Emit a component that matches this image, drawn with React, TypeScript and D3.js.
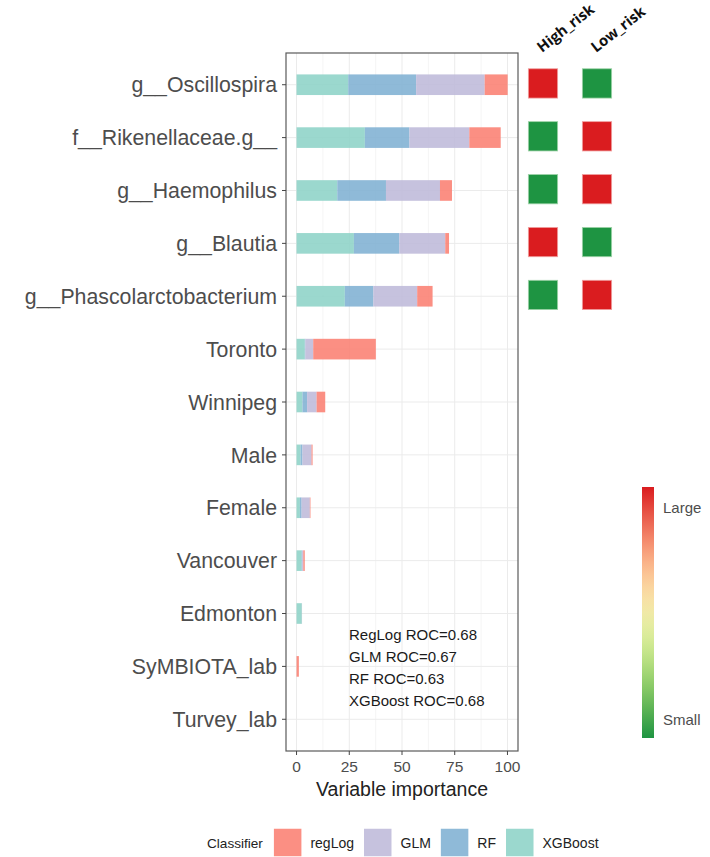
import React, { useEffect, useRef } from 'react'
import * as d3 from 'd3'

const features = [
  'g__Oscillospira',
  'f__Rikenellaceae.g__',
  'g__Haemophilus',
  'g__Blautia',
  'g__Phascolarctobacterium',
  'Toronto',
  'Winnipeg',
  'Male',
  'Female',
  'Vancouver',
  'Edmonton',
  'SyMBIOTA_lab',
  'Turvey_lab',
]

// importance per classifier (stacked left -> right: XGBoost, RF, GLM, regLog)
const xgboost = [24.5, 32.4, 19.3, 27.2, 22.9, 3.9, 2.8, 1.9, 1.6, 2.4, 2.5, 0, 0]
const rf = [32.2, 21.1, 23.1, 21.5, 13.5, 0.3, 2.2, 0.9, 0.8, 0.2, 0, 0, 0]
const glm = [32.5, 28.4, 25.6, 21.8, 20.8, 3.7, 4.5, 4.3, 3.9, 0.6, 0.1, 0, 0]
const reglog = [10.9, 14.9, 5.7, 1.8, 7.3, 29.7, 4.1, 0.5, 0.3, 0.7, 0, 1.1, 0]

const xTicks = [0, 25, 50, 75, 100]
const rocLines = ['RegLog ROC=0.68', 'GLM ROC=0.67', 'RF ROC=0.63', 'XGBoost ROC=0.68']

const legendKeys = ['regLog', 'GLM', 'RF', 'XGBoost']
const classifierColors: Record<string, string> = {
  regLog: '#FB8072',
  GLM: '#BEBADA',
  RF: '#80B1D3',
  XGBoost: '#8DD3C7',
}

// heatmap for the top 5 taxa: 1 = Large, 0 = Small
const riskGroups = ['High_risk', 'Low_risk']
const highRisk = [1, 0, 0, 1, 0]
const lowRisk = [0, 1, 1, 0, 1]
const scaleLabels = ['Small', 'Large']
const rampColors = ['#1E9442', '#a6d96a', '#ffffbf', '#fca37e', '#DA1C1F']

const FONT = '"Liberation Sans", Arial, sans-serif'

export default function App() {
  const ref = useRef<SVGSVGElement>(null)

  useEffect(() => {
    const svg = d3.select(ref.current)
    svg.selectAll('*').remove()

    const panel = { left: 286, right: 518, top: 53, bottom: 751 }

    const x = d3.scaleLinear().domain([-5, 105]).range([panel.left, panel.right])
    const y = d3.scalePoint().domain(features).range([panel.top, panel.bottom]).padding(0.6)
    const barH = y.step() * 0.39

    // grid
    const g = svg.append('g')
    const minor = d3.range(0, 101, 12.5).filter(v => !xTicks.includes(v))
    g.selectAll('.minor')
      .data(minor)
      .enter()
      .append('line')
      .attr('x1', d => x(d)).attr('x2', d => x(d))
      .attr('y1', panel.top).attr('y2', panel.bottom)
      .attr('stroke', '#f3f3f3').attr('stroke-width', 0.8)
    g.selectAll('.major')
      .data(xTicks)
      .enter()
      .append('line')
      .attr('x1', d => x(d)).attr('x2', d => x(d))
      .attr('y1', panel.top).attr('y2', panel.bottom)
      .attr('stroke', '#ebebeb').attr('stroke-width', 1)
    g.selectAll('.hgrid')
      .data(features)
      .enter()
      .append('line')
      .attr('x1', panel.left).attr('x2', panel.right)
      .attr('y1', d => y(d)!).attr('y2', d => y(d)!)
      .attr('stroke', '#ebebeb').attr('stroke-width', 1)

    // stacked bars
    const rows = features.map((f, i) => ({
      feature: f,
      XGBoost: xgboost[i],
      RF: rf[i],
      GLM: glm[i],
      regLog: reglog[i],
    }))
    const stack = d3.stack<any>().keys(['XGBoost', 'RF', 'GLM', 'regLog'])(rows)
    stack.forEach(layer => {
      g.selectAll('.bar-' + layer.key)
        .data(layer)
        .enter()
        .append('rect')
        .attr('x', d => x(d[0]))
        .attr('width', d => Math.max(0, x(d[1]) - x(d[0])))
        .attr('y', d => y(d.data.feature)! - barH / 2)
        .attr('height', barH)
        .attr('fill', classifierColors[layer.key])
        .attr('fill-opacity', 0.88)
    })

    // panel border
    svg.append('rect')
      .attr('x', panel.left).attr('y', panel.top)
      .attr('width', panel.right - panel.left).attr('height', panel.bottom - panel.top)
      .attr('fill', 'none').attr('stroke', '#5a5a5a').attr('stroke-width', 1.2)

    // y axis
    const ya = svg.append('g')
    ya.selectAll('line')
      .data(features)
      .enter()
      .append('line')
      .attr('x1', panel.left - 4).attr('x2', panel.left)
      .attr('y1', d => y(d)!).attr('y2', d => y(d)!)
      .attr('stroke', '#444').attr('stroke-width', 1)
    ya.selectAll('text')
      .data(features)
      .enter()
      .append('text')
      .attr('x', panel.left - 9)
      .attr('y', d => y(d)!)
      .attr('dy', '0.36em')
      .attr('text-anchor', 'end')
      .style('font-family', FONT)
      .style('font-size', '21.3px')
      .attr('fill', '#4d4d4d')
      .text(d => d)

    // x axis
    const xa = svg.append('g')
    xa.selectAll('line')
      .data(xTicks)
      .enter()
      .append('line')
      .attr('x1', d => x(d)).attr('x2', d => x(d))
      .attr('y1', panel.bottom).attr('y2', panel.bottom + 4)
      .attr('stroke', '#444')
    xa.selectAll('text')
      .data(xTicks)
      .enter()
      .append('text')
      .attr('x', d => x(d))
      .attr('y', panel.bottom + 21)
      .attr('text-anchor', 'middle')
      .style('font-family', FONT)
      .style('font-size', '15.5px')
      .attr('fill', '#4d4d4d')
      .text(d => d)
    svg.append('text')
      .attr('x', (panel.left + panel.right) / 2)
      .attr('y', panel.bottom + 45)
      .attr('text-anchor', 'middle')
      .style('font-family', FONT)
      .style('font-size', '19.5px')
      .attr('fill', '#222')
      .text('Variable importance')

    // ROC annotation
    svg.append('g')
      .selectAll('text')
      .data(rocLines)
      .enter()
      .append('text')
      .attr('x', 349)
      .attr('y', (d, i) => 635 + i * 21.7)
      .attr('dy', '0.36em')
      .style('font-family', FONT)
      .style('font-size', '15px')
      .attr('fill', '#1a1a1a')
      .text(d => d)

    // bottom legend
    const leg = svg.append('g')
    const legY = 843
    const keySize = 27.5
    let cx = 207
    const title = leg.append('text')
      .attr('x', cx).attr('y', legY).attr('dy', '0.36em')
      .style('font-family', FONT).style('font-size', '13.6px')
      .attr('fill', '#222')
      .text('Classifier')
    cx += (title.node() as SVGTextElement).getComputedTextLength() + 11
    legendKeys.forEach(k => {
      leg.append('rect')
        .attr('x', cx).attr('y', legY - keySize / 2 - 0.5)
        .attr('width', keySize).attr('height', keySize)
        .attr('fill', classifierColors[k]).attr('fill-opacity', 0.88)
      cx += keySize + 9
      const t = leg.append('text')
        .attr('x', cx).attr('y', legY).attr('dy', '0.36em')
        .style('font-family', FONT).style('font-size', '14px')
        .attr('fill', '#222')
        .text(k)
      cx += (t.node() as SVGTextElement).getComputedTextLength() + 10
    })

    // heatmap
    const heatX = d3.scalePoint().domain(riskGroups).range([543, 597])
    const cell = 29.3
    const heatColor = (v: number) => (v ? rampColors[4] : rampColors[0])
    const heatRows = [highRisk, lowRisk]
    const hm = svg.append('g')
    riskGroups.forEach((grp, gi) => {
      hm.selectAll('.cell-' + grp)
        .data(heatRows[gi])
        .enter()
        .append('rect')
        .attr('x', heatX(grp)! - cell / 2)
        .attr('y', (d, i) => y(features[i])! - cell / 2 - 1.3)
        .attr('width', cell).attr('height', cell)
        .attr('fill', d => heatColor(d))
        .attr('stroke', d => (d ? '#f0a0a0' : '#9fd3a8'))
        .attr('stroke-width', 0.8)
      hm.append('text')
        .attr('transform', `translate(${heatX(grp)! - 1},${53}) rotate(-38)`)
        .style('font-family', '"Open Sans", sans-serif')
        .style('font-weight', 700)
        .style('font-size', '14.8px')
        .attr('fill', '#111')
        .text(grp)
    })

    // colour scale bar
    const defs = svg.append('defs')
    const grad = defs.append('linearGradient')
      .attr('id', 'riskGrad').attr('x1', 0).attr('y1', 1).attr('x2', 0).attr('y2', 0)
    const ramp = d3.interpolateRgbBasis(rampColors)
    const stops = d3.range(0, 1.001, 0.05)
    grad.selectAll('stop')
      .data(stops)
      .enter()
      .append('stop')
      .attr('offset', d => d)
      .attr('stop-color', d => ramp(d))
    const barTop = 487
    const barBottom = 738
    svg.append('rect')
      .attr('x', 642).attr('y', barTop)
      .attr('width', 12).attr('height', barBottom - barTop)
      .attr('fill', 'url(#riskGrad)')
    const sy = d3.scalePoint().domain(scaleLabels).range([barBottom - 18, barTop + 21])
    svg.append('g')
      .selectAll('text')
      .data(scaleLabels)
      .enter()
      .append('text')
      .attr('x', 663)
      .attr('y', d => sy(d)!)
      .attr('dy', '0.36em')
      .style('font-family', FONT)
      .style('font-size', '15px')
      .attr('fill', '#4d4d4d')
      .text(d => d)
  }, [])

  return (
    <svg
      ref={ref}
      width={710}
      height={857}
      style={{ position: 'absolute', left: 0, top: 0, background: '#fff' }}
    />
  )
}
